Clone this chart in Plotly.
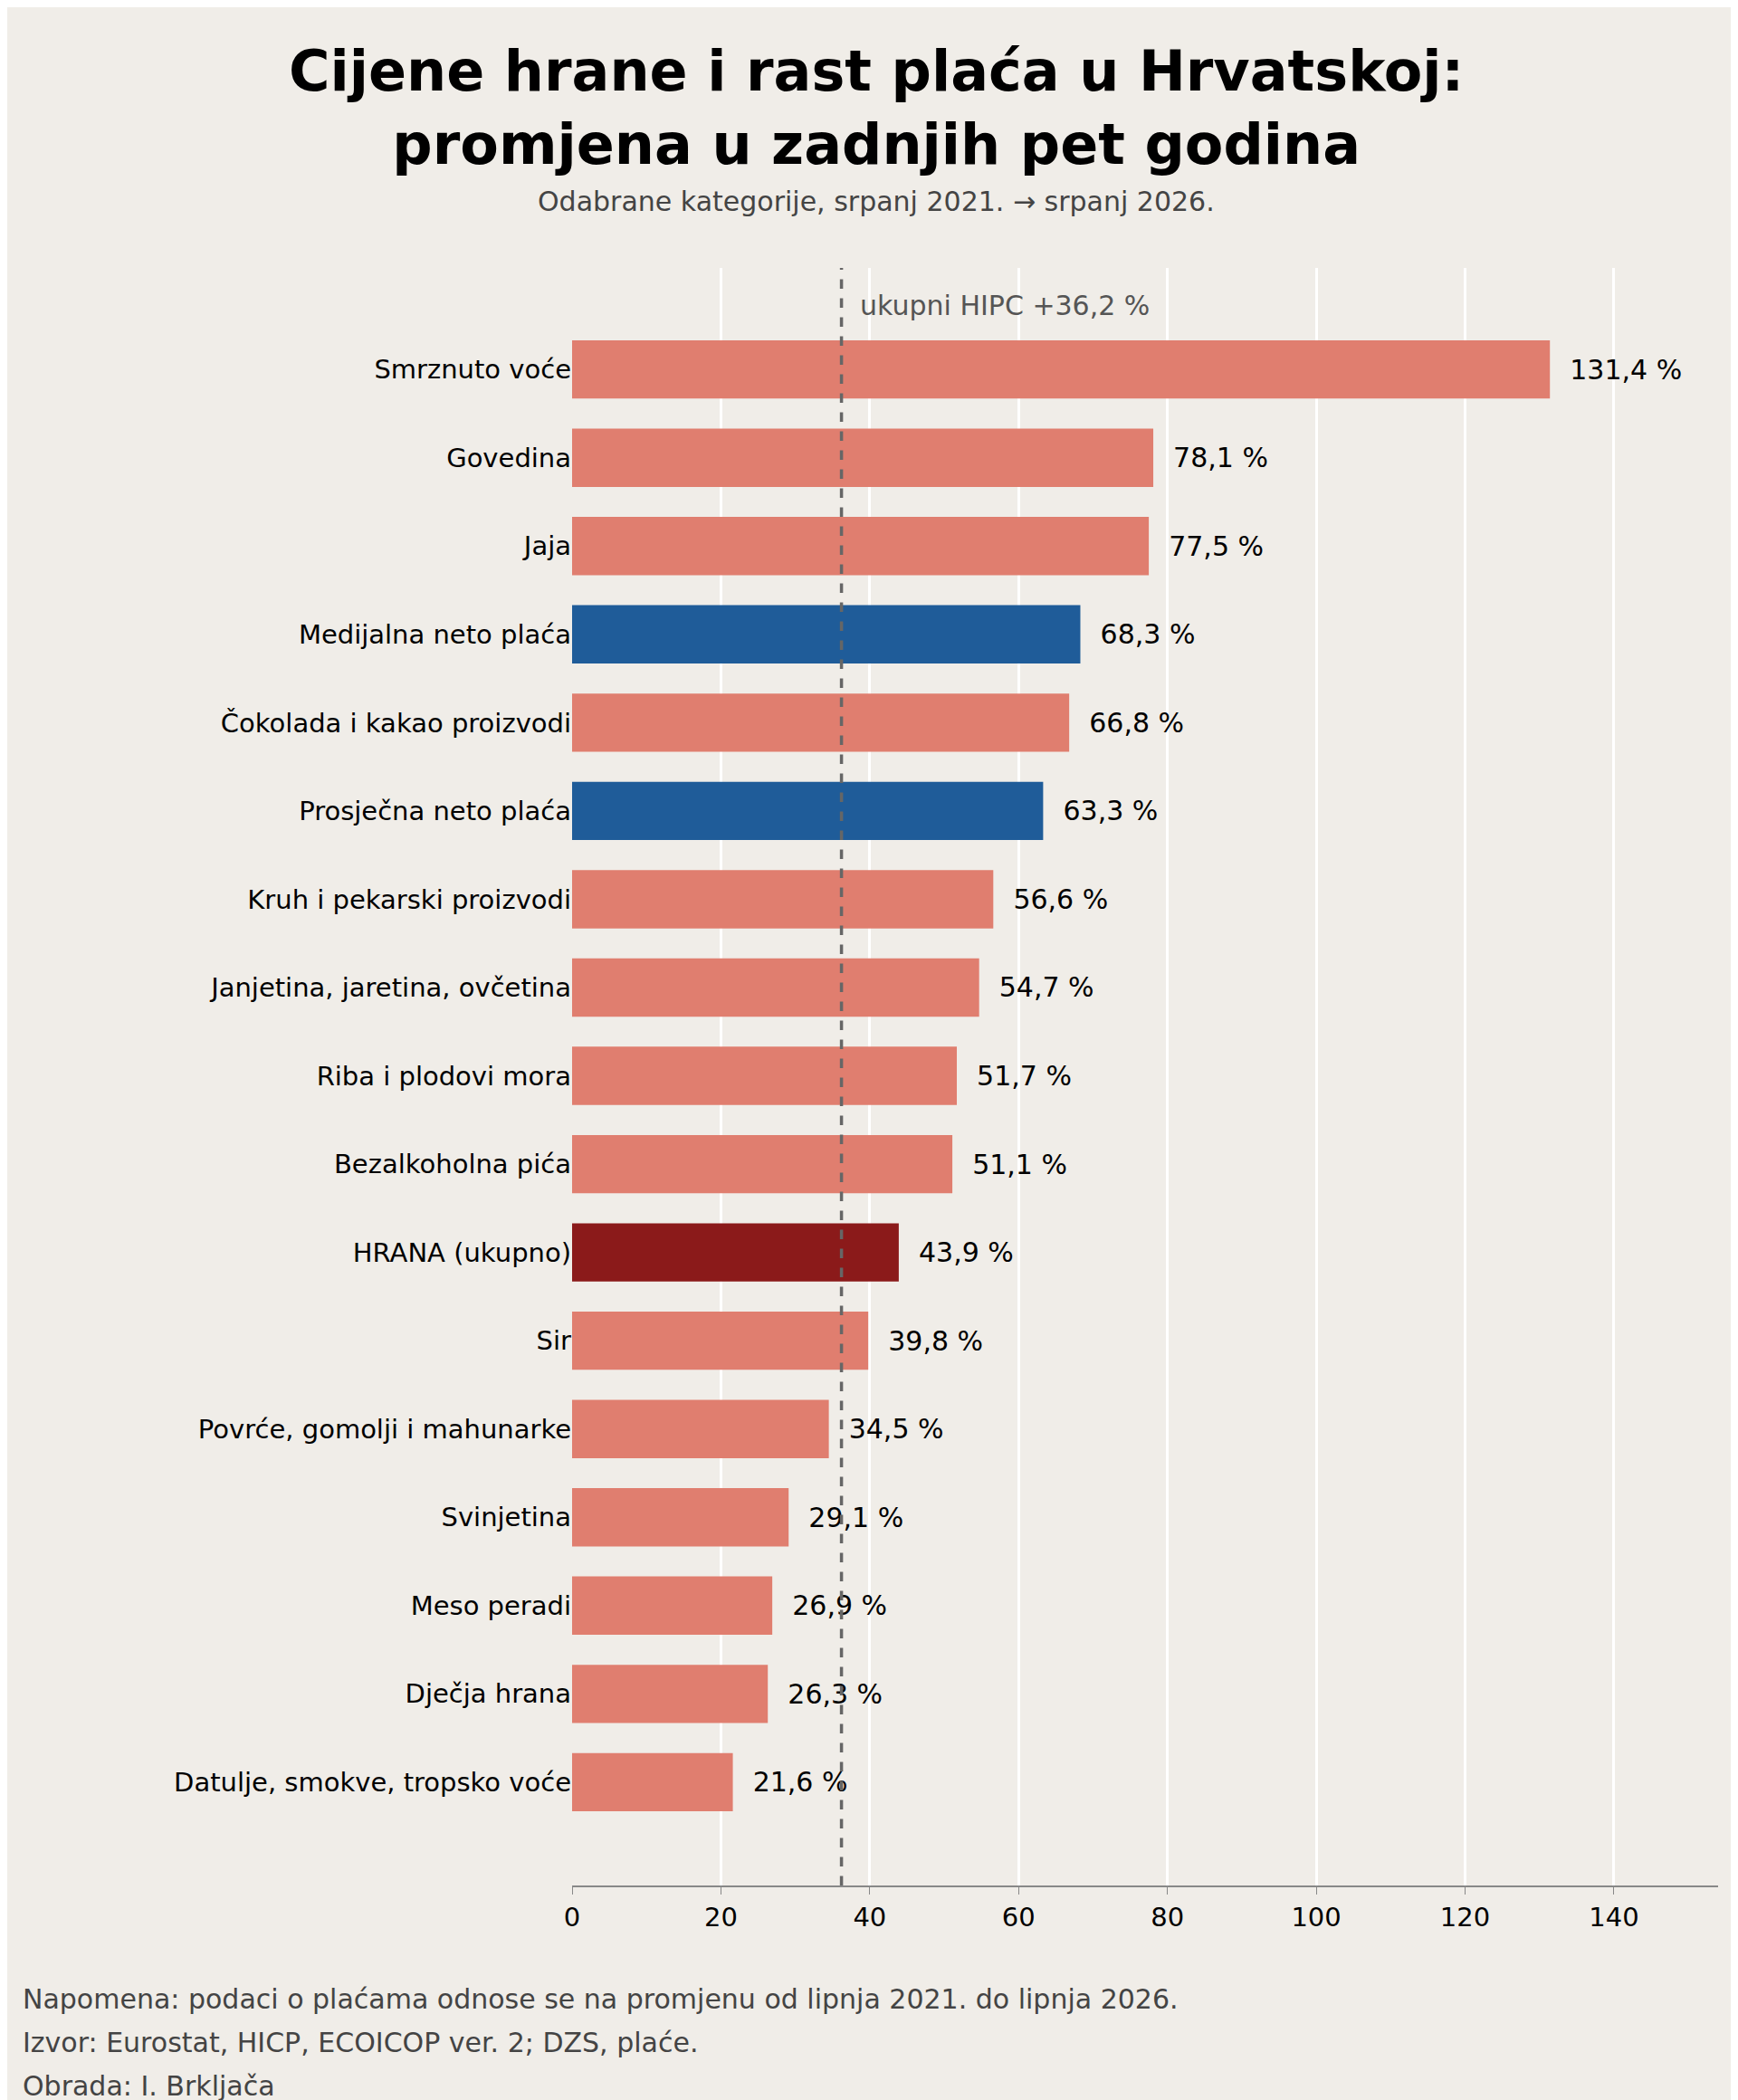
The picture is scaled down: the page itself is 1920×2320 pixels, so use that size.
import plotly.graph_objects as go

categories = ["Smrznuto voće","Govedina","Jaja","Medijalna neto plaća","Čokolada i kakao proizvodi",
              "Prosječna neto plaća","Kruh i pekarski proizvodi","Janjetina, jaretina, ovčetina",
              "Riba i plodovi mora","Bezalkoholna pića","HRANA (ukupno)","Sir",
              "Povrće, gomolji i mahunarke","Svinjetina","Meso peradi","Dječja hrana",
              "Datulje, smokve, tropsko voće"]
values = [131.4,78.1,77.5,68.3,66.8,63.3,56.6,54.7,51.7,51.1,43.9,39.8,34.5,29.1,26.9,26.3,21.6]
kinds = ["food","food","food","wage","food","wage","food","food","food","food","total",
         "food","food","food","food","food","food"]
hicp = 36.2
colors = {"food":"#E07E6F","wage":"#1F5C99","total":"#8B1A1A"}

labels = ["  " + f"{v:.1f}".replace(".", ",") + " %" for v in values]
idx = list(range(len(categories)))

H = 2320
TOP, BOT = 288, 245
PH = H - TOP - BOT
def py(pix):
    return (H - BOT - pix) / PH

fig = go.Figure(go.Bar(
    x=values, y=idx, orientation="h", width=0.66,
    marker=dict(color=[colors[k] for k in kinds], line=dict(width=0)),
    text=labels, textposition="outside", cliponaxis=False,
    textfont=dict(size=30, color="black"),
))
fig.add_shape(type="line", x0=hicp, x1=hicp, y0=0, y1=1, yref="paper", xref="x",
              line=dict(color="#666666", width=3.5, dash="dash"))
fig.add_annotation(x=hicp, y=-0.72, xref="x", yref="y", text="ukupni HIPC +36,2 %",
                   showarrow=False, xanchor="left", xshift=18, font=dict(size=30, color="#555555"))

fig.update_layout(
    width=1920, height=H, paper_bgcolor="#F0EDE8", plot_bgcolor="#F0EDE8",
    font=dict(family="DejaVu Sans", color="black"),
    margin=dict(l=624, r=30, t=TOP, b=BOT),
    showlegend=False,
    xaxis=dict(range=[0,154], tickvals=[0,20,40,60,80,100,120,140], showgrid=True,
               gridcolor="white", gridwidth=2.5, zeroline=False, showline=True,
               linecolor="#888888", linewidth=1.5, ticks="outside", ticklen=8,
               tickcolor="#888888", tickfont=dict(size=29)),
    yaxis=dict(range=[17.17,-1.15], tickvals=idx, ticktext=categories, showgrid=False,
               zeroline=False, ticks="", tickfont=dict(size=29), ticksuffix="  "),
)
fig.add_annotation(x=0.5, y=py(111), xref="paper", yref="paper", showarrow=False,
                   xanchor="center", yanchor="middle",
                   text="<b>Cijene hrane i rast plaća u Hrvatskoj:<br>promjena u zadnjih pet godina</b>",
                   font=dict(size=62, color="black"))
fig.add_annotation(x=0.5, y=py(215), xref="paper", yref="paper", showarrow=False,
                   xanchor="center", yanchor="middle",
                   text="Odabrane kategorije, srpanj 2021. → srpanj 2026.",
                   font=dict(size=30, color="#444444"))
# centre title across the full figure width
fig.layout.annotations[-1].update(x=(960-624)/(1920-624-30))
fig.layout.annotations[-2].update(x=(960-624)/(1920-624-30))
foot = ["Napomena: podaci o plaćama odnose se na promjenu od lipnja 2021. do lipnja 2026.",
        "Izvor: Eurostat, HICP, ECOICOP ver. 2; DZS, plaće.",
        "Obrada: I. Brkljača"]
for i, t in enumerate(foot):
    fig.add_annotation(x=(15-624)/(1920-624-30), y=py(2200+i*48), xref="paper", yref="paper",
                       xanchor="left", yanchor="middle", showarrow=False, text=t,
                       font=dict(size=30, color="#444444"))
fig.write_html("out.html")
